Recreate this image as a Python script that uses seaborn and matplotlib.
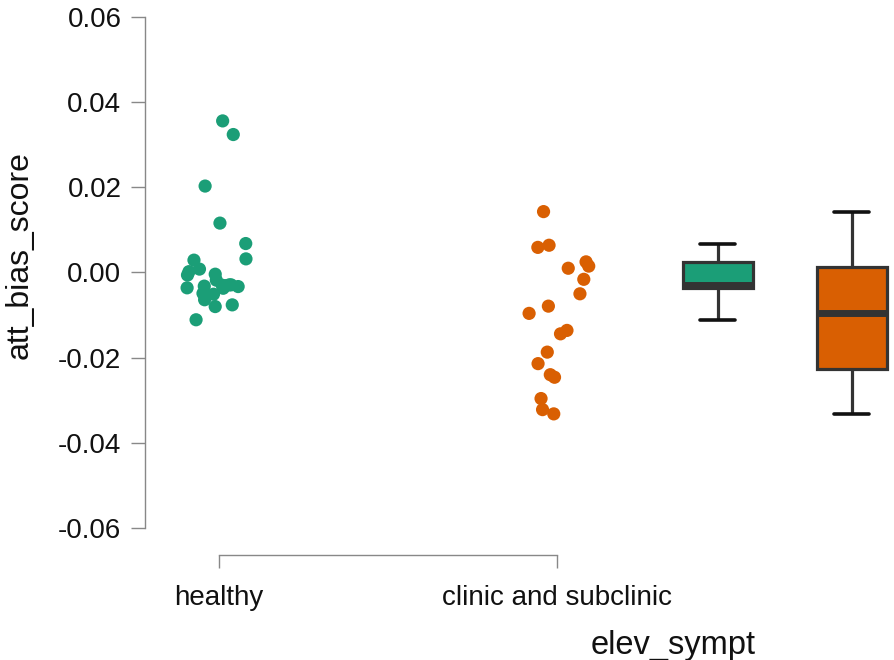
import numpy as np
import pandas as pd
import seaborn as sns
import matplotlib
matplotlib.use("Agg")
import matplotlib.pyplot as plt

# values
groups = ["healthy", "clinic and subclinic"]
colors = ["#1b9e77", "#d95f02"]

healthy = [0.0356, 0.0324, 0.0203, 0.0116, 0.0068, 0.0032, 0.0029, 0.0008,
           0.0002, -0.0004, -0.0006, -0.0018, -0.0029, -0.0032, -0.0029,
           -0.0031, -0.0036, -0.0037, -0.0049, -0.0051, -0.0064, -0.0076,
           -0.0080, -0.0111, -0.0030, -0.0033]
clinic = [0.0143, 0.0059, 0.0064, 0.0025, 0.0015, 0.0010, -0.0016, -0.0050,
          -0.0079, -0.0096, -0.0136, -0.0144, -0.0187, -0.0214, -0.0240,
          -0.0246, -0.0296, -0.0322, -0.0332]

yticks = [-0.06, -0.04, -0.02, 0.00, 0.02, 0.04, 0.06]

df = pd.DataFrame({
    "group": ["healthy"] * len(healthy) + ["clinic and subclinic"] * len(clinic),
    "att_bias_score": healthy + clinic,
})
df["pos"] = df["group"].map({"healthy": 0.0, "clinic and subclinic": 1.0})
df["box_pos"] = df["group"].map({"healthy": 1.478, "clinic and subclinic": 1.875})

sns.set_theme(style="ticks")
plt.rcParams["font.family"] = ["Liberation Sans", "DejaVu Sans"]

fig = plt.figure(figsize=(8.94, 6.6), dpi=100)
ax = fig.add_axes([145 / 894, 132 / 660, 749 / 894, 511 / 660])

np.random.seed(3)
sns.stripplot(data=df, x="pos", y="att_bias_score", hue="group",
              hue_order=groups, palette=colors, native_scale=True,
              jitter=0.1, size=9.5, linewidth=0, legend=False, ax=ax)

sns.boxplot(data=df, x="box_pos", y="att_bias_score", hue="group",
            hue_order=groups, palette=colors, native_scale=True, dodge=False,
            width=0.52, showfliers=False, saturation=1, linecolor="#333333",
            linewidth=2.3, legend=False,
            medianprops=dict(linewidth=5, color="#333333"),
            capprops=dict(color="#111111", linewidth=2.6),
            ax=ax)

ax.set_xlim(-0.22, 2.0)
ax.set_ylim(-0.06, 0.06)
ax.set_yticks(yticks, [f"{v:.2f}" for v in yticks])
ax.set_xticks([0, 1], groups)

ax.tick_params(axis="y", length=10, width=1, color="#888888", pad=7,
               labelsize=20, labelcolor="#111111")
ax.tick_params(axis="x", length=9.5, width=1, color="#888888", pad=12,
               labelsize=20, labelcolor="#111111")
for s in ax.spines.values():
    s.set_color("#888888")
    s.set_linewidth(1)

sns.despine(ax=ax, offset={"left": 0, "bottom": 19.4}, trim=True)

ax.set_ylabel("att_bias_score", fontsize=23, color="#111111")
ax.set_xlabel("elev_sympt", fontsize=23.5, color="#111111")
ax.yaxis.set_label_coords(-0.148, 0.534)
ax.xaxis.set_label_coords(0.705, -0.2)

fig.savefig("out.png", dpi=100)
